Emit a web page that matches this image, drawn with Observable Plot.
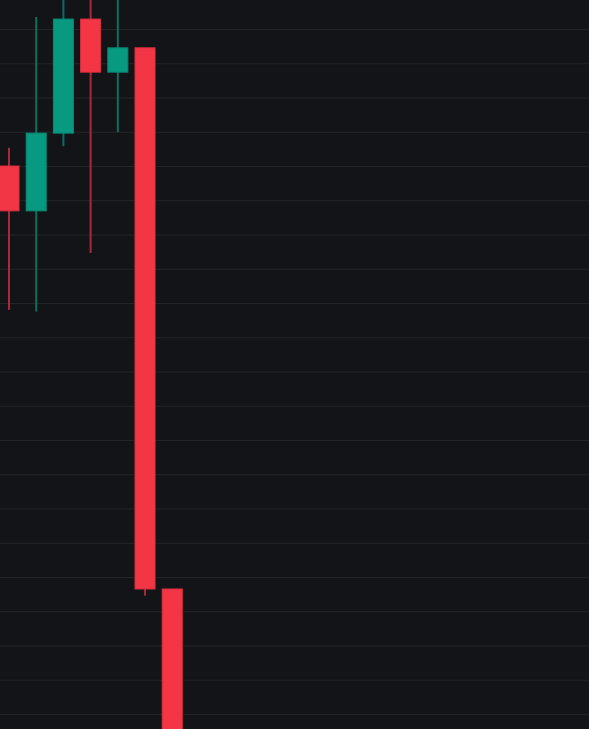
<!DOCTYPE html>
<html>
<head>
<meta charset="utf-8">
<script src="https://cdn.jsdelivr.net/npm/d3@7"></script>
<script src="https://cdn.jsdelivr.net/npm/@observablehq/plot@0.6"></script>
<style>
  html, body { margin: 0; padding: 0; background: #131418; overflow: hidden; }
  #chart svg { display: block; }
</style>
</head>
<body>
<div id="chart"></div>
<script>
const idx   = [0, 1, 2, 3, 4, 5, 6];
const open  = [260.0, 246.9, 269.6, 302.9, 287.4, 294.5, 136.5];
const close = [246.9, 269.6, 302.9, 287.4, 294.5, 136.5, 60.0];
const high  = [265.3, 303.5, 312.0, 314.0, 311.0, 294.5, 136.5];
const low   = [218.0, 217.5, 265.8, 234.6, 269.9, 134.5, 50.0];
const gridTicks = d3.range(100, 301, 10);

const data = idx.map((i, k) => ({
  i, open: open[k], close: close[k], high: high[k], low: low[k],
  up: close[k] >= open[k]
}));

const UP = "#089981", DOWN = "#f23645";
const half = 0.368;

const chart = Plot.plot({
  width: 589,
  height: 729,
  margin: 0,
  style: { background: "#131418" },
  x: { type: "linear", domain: [-0.331, 21.32], axis: null },
  y: { domain: [95.62, 308.467], axis: null },
  marks: [
    Plot.ruleY(gridTicks, { stroke: "#232529", strokeWidth: 1 }),
    Plot.ruleX(data, {
      x: "i", y1: "low", y2: "high",
      stroke: d => d.up ? "#0c6e5d" : "#a82a3a",
      strokeWidth: 2,
      dx: -0.5
    }),
    Plot.rect(data, {
      x1: d => d.i - half, x2: d => d.i + half,
      y1: "open", y2: "close",
      fill: d => d.up ? UP : DOWN,
      stroke: d => d.up ? "#0a8a74" : "#d9303e",
      strokeWidth: 1
    })
  ]
});
document.getElementById("chart").appendChild(chart);
</script>
</body>
</html>
